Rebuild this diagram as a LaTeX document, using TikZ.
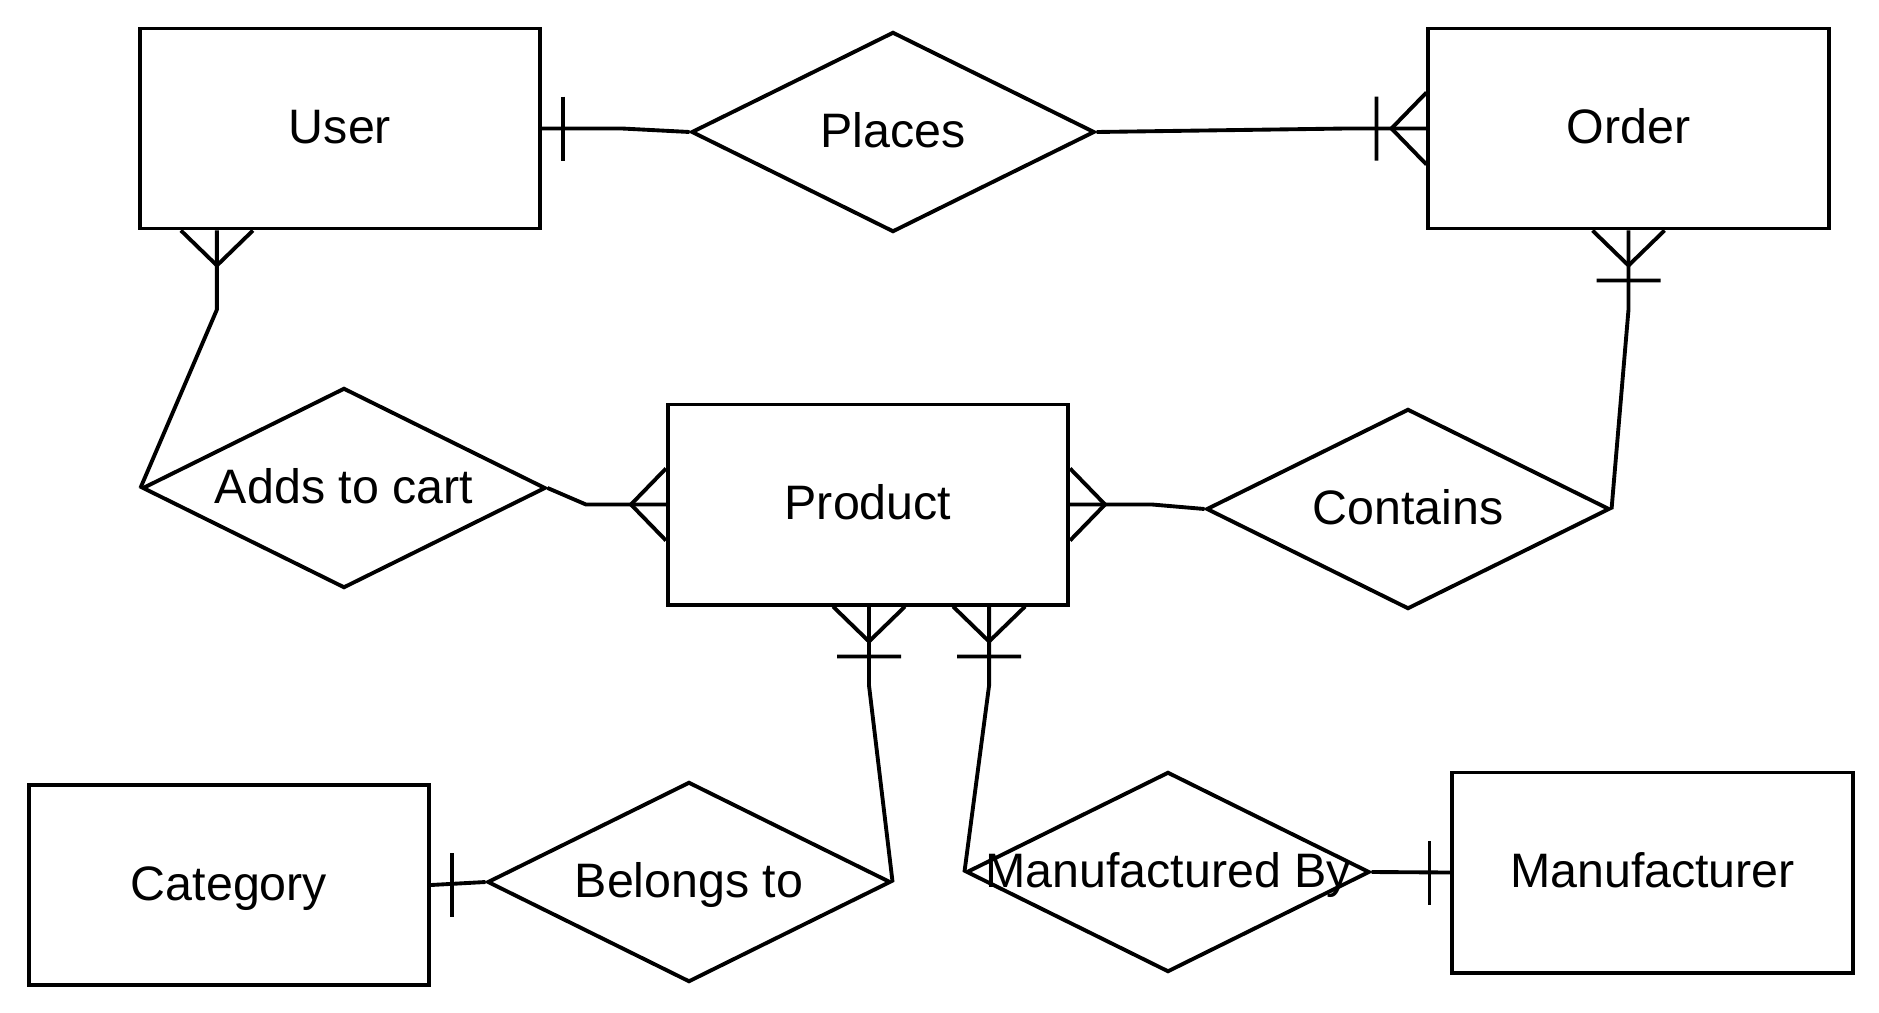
\documentclass[tikz,border=0pt]{standalone}
\usepackage{fontspec}
\setmainfont{Liberation Sans}
\usetikzlibrary{shapes.geometric,calc}

\tikzset{
  entity/.style={draw,line width=1.1pt,minimum width=4cm,minimum height=2cm,inner sep=0pt,
    text height=.33cm,text depth=.03cm},
  rel/.style={draw,diamond,aspect=2,line width=1.1pt,minimum width=4.03cm,minimum height=2cm,inner sep=0pt},
  reltext/.style={text height=.33cm,text depth=.03cm,inner sep=0pt},
  link/.style={line width=1.1pt,line join=round},
  % crow's foot, bars
  many/.pic={\draw[link] (0,-36) -- (35,0) -- (0,36);},
  onemany/.pic={\draw[link] (0,-36) -- (35,0) -- (0,36) (50,-32) -- (50,32);},
  one/.pic={\draw[link] (21,-32) -- (21,32);}
}

\begin{document}
\begin{tikzpicture}[x=.01cm,y=-.01cm,font=\fontsize{13.75pt}{16pt}\selectfont,
  every label/.style={reltext}]
\useasboundingbox (0,0) rectangle (1879,1012);

% entities
\node[entity] (user) at (340,128.5) {User};
\node[entity] (order) at (1628.5,128.5) {Order};
\node[entity] (product) at (868,504.5) {Product};
\node[entity] (category) at (229,885) {Category};
\node[entity] (manufacturer) at (1652.5,872.5) {Manufacturer};

% relations
\node[rel,label=center:Places] (places) at (893,132) {};
\node[rel,label=center:Adds to cart] (adds) at (344,488) {};
\node[rel,label=center:Contains] (contains) at (1408,509) {};
\node[rel,label=center:Belongs to] (belongs) at (689,882) {};
\node[rel,label=center:Manufactured By] (mfg) at (1168,872) {};

\coordinate (userS) at ([xshift=-1.23cm]user.south);
\coordinate (prodSa) at ([xshift=.01cm]product.south);
\coordinate (prodSb) at ([xshift=1.21cm]product.south);

% connectors
\draw[link] (user.east) -- ++(80,0) -- (places.west);
\draw[link] (places.east) -- ($(order.west)+(-80,0)$) -- (order.west);
\draw[link] (userS) -- ++(0,79) -- (adds.west);
\draw[link] (order.south) -- ++(0,79) -- (contains.east);
\draw[link] (adds.east) -- ($(product.west)+(-80,0)$) -- (product.west);
\draw[link] (product.east) -- ++(82,0) -- (contains.west);
\draw[link] (prodSa) -- ++(0,79) -- (belongs.east);
\draw[link] (prodSb) -- ++(0,79) -- (mfg.west);
\draw[link] (category.east) -- (belongs.west);
\draw[link] (mfg.east) -- (manufacturer.west);

% ends
\pic at (user.east) {one};
\pic[rotate=180] at (order.west) {onemany};
\pic[rotate=-90] at (userS) {many};
\pic[rotate=-90] at (order.south) {onemany};
\pic[rotate=180] at (product.west) {many};
\pic at (product.east) {many};
\pic[rotate=-90] at (prodSa) {onemany};
\pic[rotate=-90] at (prodSb) {onemany};
\pic at (category.east) {one};
\pic[rotate=180] at (manufacturer.west) {one};

\end{tikzpicture}
\end{document}
